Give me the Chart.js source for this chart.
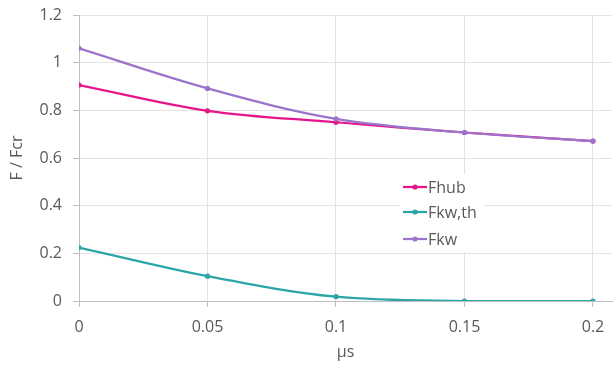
<!DOCTYPE html>
<html>
<head>
<meta charset="utf-8">
<script src="https://cdn.jsdelivr.net/npm/chart.js@4"></script>
<style>
  html, body { margin: 0; padding: 0; background: #ffffff; }
  #wrap { position: relative; width: 616px; height: 365px; }
</style>
</head>
<body>
<div id="wrap"><canvas id="c" width="616" height="365"></canvas></div>
<script>
// ---- data ----
const muValues = [0, 0.05, 0.1, 0.15, 0.2];
const fHub     = [0.906, 0.798, 0.750, 0.707, 0.671];
const fKwTh    = [0.224, 0.104, 0.018, 0.000, 0.000];
const fKw      = [1.060, 0.892, 0.764, 0.707, 0.671];
const seriesLabels = ['Fhub', 'Fkw,th', 'Fkw'];
const seriesColors = ['#E6168A', '#2BA5A8', '#9B74CC'];
const xTitle = 'μs';
const yTitle = 'F / Fcr';

const toPts = arr => muValues.map((x, i) => ({ x: x, y: arr[i] }));
const seriesData = [fHub, fKwTh, fKw];

const datasets = seriesData.map((arr, i) => ({
  label: seriesLabels[i],
  data: toPts(arr),
  borderColor: seriesColors[i],
  backgroundColor: seriesColors[i],
  pointBackgroundColor: seriesColors[i],
  pointBorderColor: seriesColors[i],
  pointRadius: 2.6,
  pointBorderWidth: 0,
  borderWidth: 2.25,
  tension: 0.35,
  fill: false,
  order: 2 - i
}));

const FONT = "'Open Sans', 'DejaVu Sans', sans-serif";
const TEXT = '#595959';

const legendPlugin = {
  id: 'insideLegend',
  afterDatasetsDraw(chart) {
    const ctx = chart.ctx;
    ctx.save();
    ctx.fillStyle = '#ffffff';
    ctx.fillRect(400, 174, 84, 78);
    const rows = [187, 212, 239];
    chart.data.datasets.forEach((ds, i) => {
      const y = rows[i];
      ctx.strokeStyle = ds.borderColor;
      ctx.lineWidth = 2.25;
      ctx.beginPath();
      ctx.moveTo(403, y);
      ctx.lineTo(427, y);
      ctx.stroke();
      ctx.fillStyle = ds.borderColor;
      ctx.beginPath();
      ctx.arc(415, y, 2.6, 0, Math.PI * 2);
      ctx.fill();
      ctx.fillStyle = TEXT;
      ctx.font = "16px " + FONT;
      ctx.textBaseline = 'middle';
      ctx.textAlign = 'left';
      ctx.fillText(ds.label, 428, y + 1);
    });
    ctx.restore();
  }
};

new Chart(document.getElementById('c'), {
  type: 'line',
  data: { datasets: datasets },
  plugins: [legendPlugin],
  options: {
    responsive: false,
    animation: false,
    layout: { padding: { top: 15, right: 0, left: 0, bottom: 0 } },
    plugins: {
      legend: { display: false },
      tooltip: { enabled: false }
    },
    scales: {
      x: {
        type: 'linear',
        min: 0,
        max: 0.2074,
        afterBuildTicks(scale) {
          scale.ticks = muValues.map(v => ({ value: v }));
        },
        afterFit(scale) {
          scale.height = 64;
          scale.paddingLeft = 0;
          scale.paddingRight = 0;
        },
        ticks: {
          font: { family: FONT, size: 16 },
          color: TEXT,
          padding: 11,
          maxRotation: 0,
          autoSkip: false,
          callback: v => String(Number(v.toFixed(2)))
        },
        grid: {
          color: '#e3e3e3',
          lineWidth: 1,
          tickLength: 6,
          tickColor: '#bfbfbf'
        },
        border: { color: '#bfbfbf', width: 1 },
        title: {
          display: true,
          text: xTitle,
          color: TEXT,
          font: { family: FONT, size: 16 },
          padding: { top: 0, bottom: 3 }
        }
      },
      y: {
        type: 'linear',
        min: 0,
        max: 1.2,
        afterFit(scale) {
          scale.width = 79;
          scale.paddingTop = 0;
          scale.paddingBottom = 0;
        },
        ticks: {
          stepSize: 0.2,
          font: { family: FONT, size: 16 },
          color: TEXT,
          padding: 11,
          callback: v => String(Number(v.toFixed(2)))
        },
        grid: {
          color: '#e3e3e3',
          lineWidth: 1,
          tickLength: 6,
          tickColor: '#bfbfbf'
        },
        border: { color: '#bfbfbf', width: 1 },
        title: {
          display: true,
          text: yTitle,
          color: TEXT,
          font: { family: FONT, size: 16 },
          padding: { top: 8, bottom: 0 }
        }
      }
    }
  }
});
</script>
</body>
</html>
